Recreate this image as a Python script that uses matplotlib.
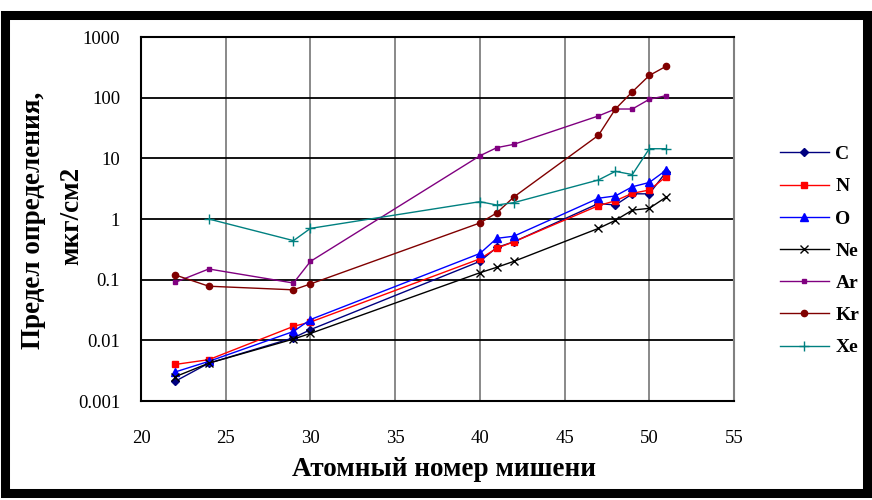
import matplotlib
matplotlib.use("Agg")
import matplotlib.pyplot as plt
from matplotlib.patches import Rectangle

# ---- data ----
x_all = [22, 24, 29, 30, 40, 41, 42, 47, 48, 49, 50, 51]
x_xe = [24, 29, 30, 40, 41, 42, 47, 48, 49, 50, 51]

C = [0.0021, 0.0042, 0.011, 0.015, 0.2, 0.34, 0.42, 1.8, 1.7, 2.6, 2.6, 6.0]
N = [0.004, 0.0048, 0.017, 0.02, 0.22, 0.33, 0.42, 1.66, 2.0, 2.65, 3.0, 5.0]
O = [0.003, 0.0045, 0.014, 0.022, 0.27, 0.48, 0.52, 2.2, 2.4, 3.4, 4.0, 6.4]
Ne = [0.0025, 0.0042, 0.0105, 0.013, 0.13, 0.16, 0.2, 0.7, 0.95, 1.4, 1.5, 2.3]
Ar = [0.09, 0.15, 0.088, 0.2, 11, 15, 17, 50, 65, 65, 94, 108]
Kr = [0.12, 0.078, 0.068, 0.085, 0.86, 1.26, 2.3, 24, 65, 125, 232, 330]
Xe = [1.0, 0.44, 0.7, 1.93, 1.7, 1.86, 4.4, 6.1, 5.4, 14.4, 14.4]

x_ticks = [20, 25, 30, 35, 40, 45, 50, 55]
y_ticks = [0.001, 0.01, 0.1, 1, 10, 100, 1000]
y_tick_labels = ["0.001", "0.01", "0.1", "1", "10", "100", "1000"]

series = [
    ("C", x_all, C, "#000080", "D", 4.5),
    ("N", x_all, N, "#FF0000", "s", 5),
    ("O", x_all, O, "#0000FF", "^", 6),
    ("Ne", x_all, Ne, "#000000", "x", 6),
    ("Ar", x_all, Ar, "#800080", "s", 3.5),
    ("Kr", x_all, Kr, "#800000", "o", 4.5),
    ("Xe", x_xe, Xe, "#008080", "+", 7),
]

W, H = 872, 500
fig = plt.figure(figsize=(W / 100, H / 100), dpi=100)
fig.patch.set_facecolor("white")

serif = ["Liberation Serif", "DejaVu Serif"]

# black frame
fig.patches.append(Rectangle((5 / W, 1 - 493 / H), 862 / W, 478 / H,
                             transform=fig.transFigure, fill=False,
                             edgecolor="black", linewidth=6.5, zorder=0))

ax = fig.add_axes([141 / W, 1 - 401 / H, 593 / W, 364 / H])
ax.set_yscale("log")
ax.set_xlim(20, 55)
ax.set_ylim(0.001, 1000)

for name, xs, ys, col, mk, ms in series:
    ax.plot(xs, ys, color=col, lw=1.0, marker=mk, markersize=ms,
            markerfacecolor=col, markeredgecolor=col, markeredgewidth=1.0,
            label=name)

ax.set_xticks(x_ticks)
ax.set_xticklabels([str(v) for v in x_ticks])
ax.set_yticks(y_ticks)
ax.set_yticklabels(y_tick_labels)
ax.minorticks_off()
ax.tick_params(axis="both", length=0, labelsize=13.5)
ax.tick_params(axis="x", pad=21)
ax.tick_params(axis="y", pad=15)
for lab in ax.get_xticklabels() + ax.get_yticklabels():
    lab.set_family(serif)

ax.xaxis.grid(True, color="#808080", lw=1.3)
ax.yaxis.grid(True, color="#000000", lw=1.3)
ax.set_axisbelow(True)
for s in ax.spines.values():
    s.set_color("black")
    s.set_linewidth(1.5)
ax.spines["right"].set_color("#808080")

fig.text(444 / W, 1 - 470 / H, "Атомный номер мишени", ha="center", va="center",
         fontsize=19.5, fontweight="bold", family=serif)
fig.text(34 / W, 1 - 220 / H, "Предел определения,", ha="center", va="center",
         rotation=90, fontsize=19.5, fontweight="bold", family=serif)
fig.text(72 / W, 1 - 216 / H, "мкг/см2", ha="center", va="center",
         rotation=90, fontsize=19.5, fontweight="bold", family=serif)

leg = ax.legend(loc="center left", bbox_to_anchor=(780 / W, 1 - 251 / H),
                bbox_transform=fig.transFigure, frameon=False,
                prop={"family": serif, "weight": "bold", "size": 14},
                handlelength=2.5, handletextpad=0.35, labelspacing=0.75,
                borderaxespad=0, borderpad=0)

fig.savefig("out.png", dpi=100, facecolor="white")
